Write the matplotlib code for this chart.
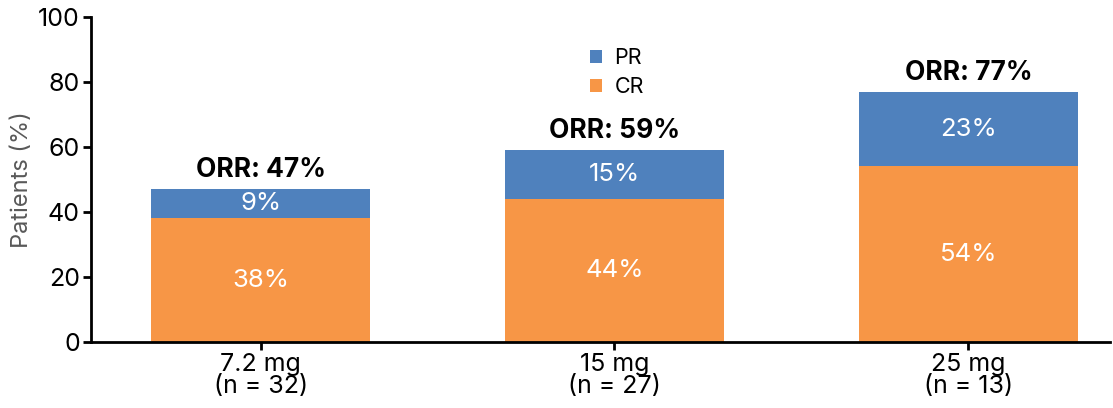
import numpy as np
import matplotlib
matplotlib.use('Agg')
import matplotlib.pyplot as plt

plt.rcParams['font.family'] = ['Inter', 'DejaVu Sans']

doses = ['7.2 mg\n(n = 32)', '15 mg\n(n = 27)', '25 mg\n(n = 13)']
cr = [38, 44, 54]
pr = [9, 15, 23]
orr = [47, 59, 77]

blue = '#4f81bd'
orange = '#f79646'

fig = plt.figure(figsize=(11.13, 4.08), dpi=100)
ax = fig.add_axes([0.0818, 0.1618, 0.9155, 0.7966])

x = np.arange(len(doses))
w = 0.62
b_cr = ax.bar(x, cr, w, color=orange, label='CR')
b_pr = ax.bar(x, pr, w, bottom=cr, color=blue, label='PR')

for i in range(len(x)):
    ax.text(x[i], cr[i] / 2, f'{cr[i]}%', ha='center', va='center',
            color='white', fontsize=18.5)
    ax.text(x[i], cr[i] + pr[i] / 2, f'{pr[i]}%', ha='center', va='center',
            color='white', fontsize=18.5)
    ax.text(x[i], orr[i] + 1.8, f'ORR: {orr[i]}%', ha='center', va='bottom',
            color='black', fontsize=19, fontweight='bold')

ax.set_xlim(-0.479, 2.40)
ax.set_ylim(0, 100)
ax.set_yticks(range(0, 101, 20))
ax.set_xticks(x)
ax.set_xticklabels(doses, linespacing=0.92)
ax.tick_params(axis='both', labelsize=18, width=2, length=6, direction='out',
               colors='black')
ax.tick_params(axis='x', pad=2)
ax.tick_params(axis='y', pad=2)
for s in ['top', 'right']:
    ax.spines[s].set_visible(False)
for s in ['left', 'bottom']:
    ax.spines[s].set_linewidth(2)
ax.set_ylabel('Patients (%)', fontsize=17, color='#595959', labelpad=4)

ax.legend(handles=[b_pr, b_cr], loc='upper center', bbox_to_anchor=(0.516, 0.965),
          frameon=False, fontsize=15.5, handlelength=0.55, handleheight=0.55,
          handletextpad=0.6, labelspacing=0.45)

fig.savefig('out.png', dpi=100)
